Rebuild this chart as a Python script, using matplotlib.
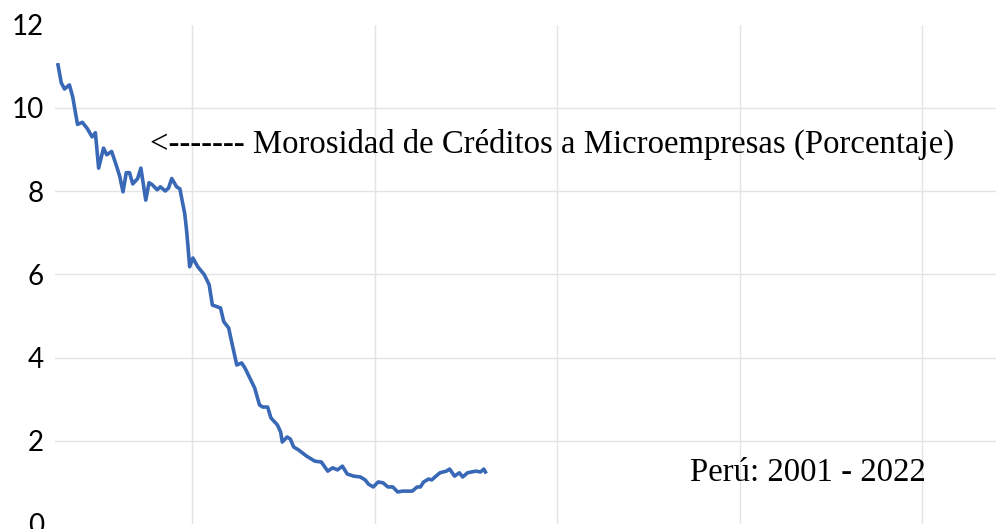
import matplotlib.pyplot as plt

# mes (0 = ene-2001) y morosidad
mes = [0, 2, 4, 7, 9, 12, 15, 18, 21, 23, 25, 28, 30, 33, 36, 38, 40, 42, 44, 46,
       49, 51, 54, 56, 58, 61, 63, 66, 68, 70, 73, 75, 78, 79, 80, 81, 83, 86, 90, 93,
       95, 100, 102, 105, 107, 110, 113, 115, 118, 121, 124, 126, 129, 131, 135, 137,
       138, 141, 143, 145, 148, 153, 158, 162, 166, 169, 172, 175, 178, 182, 186, 189,
       191, 194, 197, 200, 203, 206, 209, 212, 218, 221, 223, 225, 228, 230, 232, 235,
       239, 241, 244, 247, 249, 252, 257, 260, 262, 263]
morosidad = [11.03, 10.6, 10.45, 10.55, 10.27, 9.6, 9.65, 9.5, 9.3, 9.4, 8.55, 9.03,
             8.87, 8.95, 8.6, 8.35, 7.98, 8.44, 8.44, 8.17, 8.3, 8.55, 7.78, 8.2, 8.15,
             8.03, 8.1, 8.0, 8.07, 8.3, 8.1, 8.05, 7.45, 7.1, 6.66, 6.18, 6.39, 6.18,
             5.99, 5.75, 5.26, 5.19, 4.86, 4.71, 4.35, 3.82, 3.87, 3.75, 3.51, 3.27,
             2.86, 2.81, 2.81, 2.55, 2.38, 2.21, 1.97, 2.09, 2.04, 1.85, 1.78, 1.63,
             1.51, 1.49, 1.27, 1.35, 1.30, 1.39, 1.20, 1.15, 1.13, 1.06, 0.96, 0.89,
             1.01, 0.99, 0.89, 0.89, 0.77, 0.79, 0.79, 0.89, 0.89, 1.01, 1.08, 1.06,
             1.13, 1.23, 1.27, 1.32, 1.15, 1.23, 1.13, 1.23, 1.27, 1.25, 1.32, 1.25]

y_ticks = [0, 2, 4, 6, 8, 10, 12]
x_grid = [82.5, 194.8, 307.1, 419.4, 531.7]

fig = plt.figure(figsize=(9.96, 5.29), dpi=100)
ax = fig.add_axes([55/996, 5/529, 941/996, 499.5/529])

ax.plot(mes, morosidad, color='#3868B6', lw=2.6, solid_joinstyle='round', zorder=3)

ax.set_xlim(-1.85, 577.2)
ax.set_ylim(0, 12)
ax.set_yticks(y_ticks)
ax.set_xticks(x_grid)
ax.set_xticklabels([])
ax.tick_params(axis='both', length=0)
ax.tick_params(axis='y', pad=8, labelsize=20)
for lab in ax.get_yticklabels():
    lab.set_family('Lato')
ax.grid(True, color='#e4e4e4', lw=1)
gl = ax.yaxis.get_gridlines()
gl[0].set_visible(False)
gl[-1].set_visible(False)
for s in ax.spines.values():
    s.set_visible(False)

ax.text(0.101, 0.760, '<------- Morosidad de Créditos a Microempresas (Porcentaje)',
        transform=ax.transAxes, family='Liberation Serif', fontsize=23.6,
        va='center', ha='left')
ax.text(0.675, 0.103, 'Perú: 2001 - 2022', transform=ax.transAxes,
        family='Liberation Serif', fontsize=23.6, va='center', ha='left')

fig.savefig('out.png', dpi=100)
